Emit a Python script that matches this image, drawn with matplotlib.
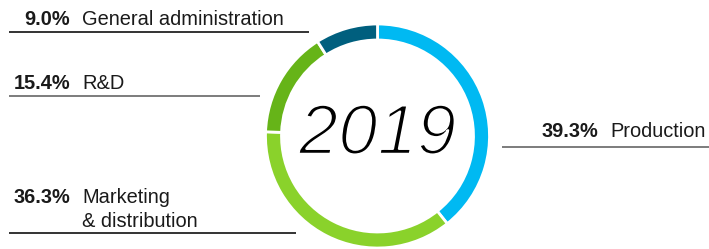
import matplotlib
matplotlib.use('Agg')
import matplotlib.pyplot as plt
import matplotlib.patheffects as pe

# anteil je bereich, 2019
labels = ['Production', 'Marketing\n& distribution', 'R&D', 'General administration']
values = [39.3, 36.3, 15.4, 9.0]
colors = ['#00b9f2', '#8ad22b', '#66b418', '#005f7e']
year = '2019'

W, H = 709, 249
fig = plt.figure(figsize=(W / 100, H / 100), dpi=100)
ax = fig.add_axes([0, 0, 1, 1])

# pixel coords, y nach oben
cx, cy = 377.5, H - 136
ax.pie(values, colors=colors, startangle=90, counterclock=False,
       center=(cx, cy), radius=112,
       wedgeprops=dict(width=16, edgecolor='white', linewidth=2))

# duenne schrift nachbilden: weisser rand ueber dem text
thin = [pe.Normal(), pe.Stroke(linewidth=1.8, foreground='white')]
ax.text(cx, cy, year, ha='center', va='center', fontsize=51,
        style='italic', family='Liberation Sans', color='#000000',
        path_effects=thin)

fnt = 'Liberation Sans'
fs = 14.4
tc = '#1a1a1a'

def name(x, y, s):
    ax.text(x, y, s, ha='left', va='baseline', fontsize=fs, family=fnt, color=tc)

# linke labels: (index, y der grundlinie, linie y, linie x-ende, linienfarbe)
left = [(3, 25, 32, 309, '#111111'),
        (2, 89, 96, 260, '#666666'),
        (1, 203, 233, 296, '#111111')]
for i, yb, yl, xe, lc in left:
    ax.text(70, H - yb, '%.1f%%' % values[i], ha='right', va='baseline',
            fontsize=fs, fontweight='bold', family=fnt, color=tc)
    for k, part in enumerate(labels[i].split('\n')):
        name(82, H - yb - 24 * k, part)
    ax.plot([9, xe], [H - yl, H - yl], color=lc, lw=1.2, solid_capstyle='butt')

# rechts: production
ax.text(598, H - 137, '%.1f%%' % values[0], ha='right', va='baseline',
        fontsize=fs, fontweight='bold', family=fnt, color=tc)
name(610, H - 137, labels[0])
ax.plot([502, W], [H - 147, H - 147], color='#666666', lw=1.2, solid_capstyle='butt')

ax.set_xlim(0, W)
ax.set_ylim(0, H)
ax.axis('off')
fig.savefig('out.png', dpi=100)
